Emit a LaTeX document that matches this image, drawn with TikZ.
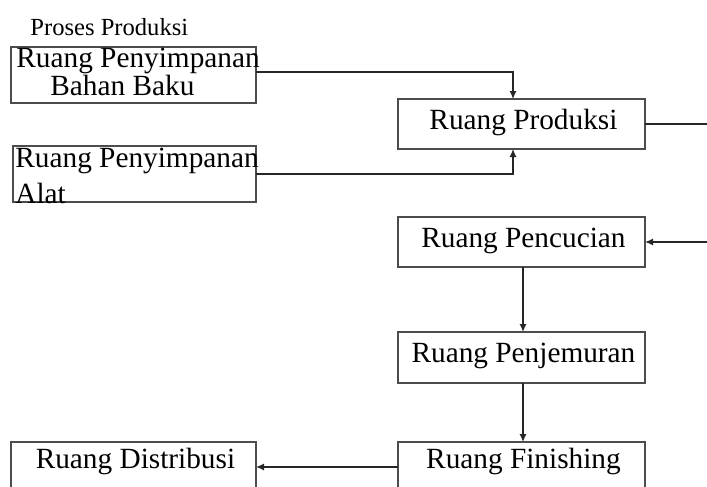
\documentclass[tikz,border=0pt]{standalone}
\usepackage{fontspec}
\setmainfont{Liberation Serif}
\usetikzlibrary{arrows.meta}
\begin{document}
\begin{tikzpicture}[x=0.5pt,y=-0.5pt,
  roombox/.style={draw=black!70,line width=0.7pt,outer sep=0pt,inner sep=0pt,
    minimum width=123.5pt,minimum height=25pt,
    font=\fontsize{14.65}{16}\selectfont,text height=10pt,text depth=5pt},
  roomtext/.style={inner sep=0pt,anchor=base west,font=\fontsize{14.65}{16}\selectfont},
  flow/.style={draw=black!85,line width=0.75pt,-{Latex[length=4pt,width=3.6pt]}},
  plain/.style={draw=black!85,line width=0.75pt}]
\useasboundingbox (0,0) rectangle (707,487);
\clip (0,0) rectangle (707,487);
% title
\node[inner sep=0pt,anchor=base west,font=\fontsize{12.3}{14}\selectfont] (title) at (30,35) {Proses Produksi};
% storage boxes
\node[roombox,minimum width=122.5pt,minimum height=28pt] (b1) at (133.5,75) {};
\node[roomtext] (b1a) at (16,67) {Ruang Penyimpanan};
\node[roomtext] (b1b) at (50,95) {Bahan Baku};
\node[roombox,minimum width=121.5pt,minimum height=28pt] (b2) at (134.5,174) {};
\node[roomtext] (b2a) at (15,167) {Ruang Penyimpanan};
\node[roomtext] (b2b) at (15,203) {Alat};
% process boxes
\node[roombox] (prod) at (521.5,124) {\hspace*{2pt}Ruang Produksi};
\node[roombox] (penc) at (521.5,242) {\hspace*{2pt}Ruang Pencucian};
\node[roombox,minimum height=25.5pt] (penj) at (521.5,357.5) {\hspace*{2pt}Ruang Penjemuran};
\node[roombox,text height=10pt,text depth=9pt] (fin) at (521.5,467) {\hspace*{2pt}Ruang Finishing};
\node[roombox,minimum width=122.5pt,text height=10pt,text depth=9pt] (dist) at (133.5,467) {\hspace*{2pt}Ruang Distribusi};
% edge coordinates
\coordinate (e1) at (707,125);
\coordinate (e2) at (707,242);
% connectors
\draw[flow] ([yshift=1.5pt]b1.east) -| ([xshift=-4.25pt]prod.north);
\draw[flow] (b2.east) -| ([xshift=-4.25pt]prod.south);
\draw[plain] (prod.east) -- (prod.east -| e1);
\draw[flow] (e2) -- (penc.east);
\draw[flow] ([xshift=0.75pt]penc.south) -- ([xshift=0.75pt]penj.north);
\draw[flow] ([xshift=0.75pt]penj.south) -- ([xshift=0.75pt]fin.north);
\draw[flow] (fin.west) -- (dist.east);
\end{tikzpicture}
\end{document}
